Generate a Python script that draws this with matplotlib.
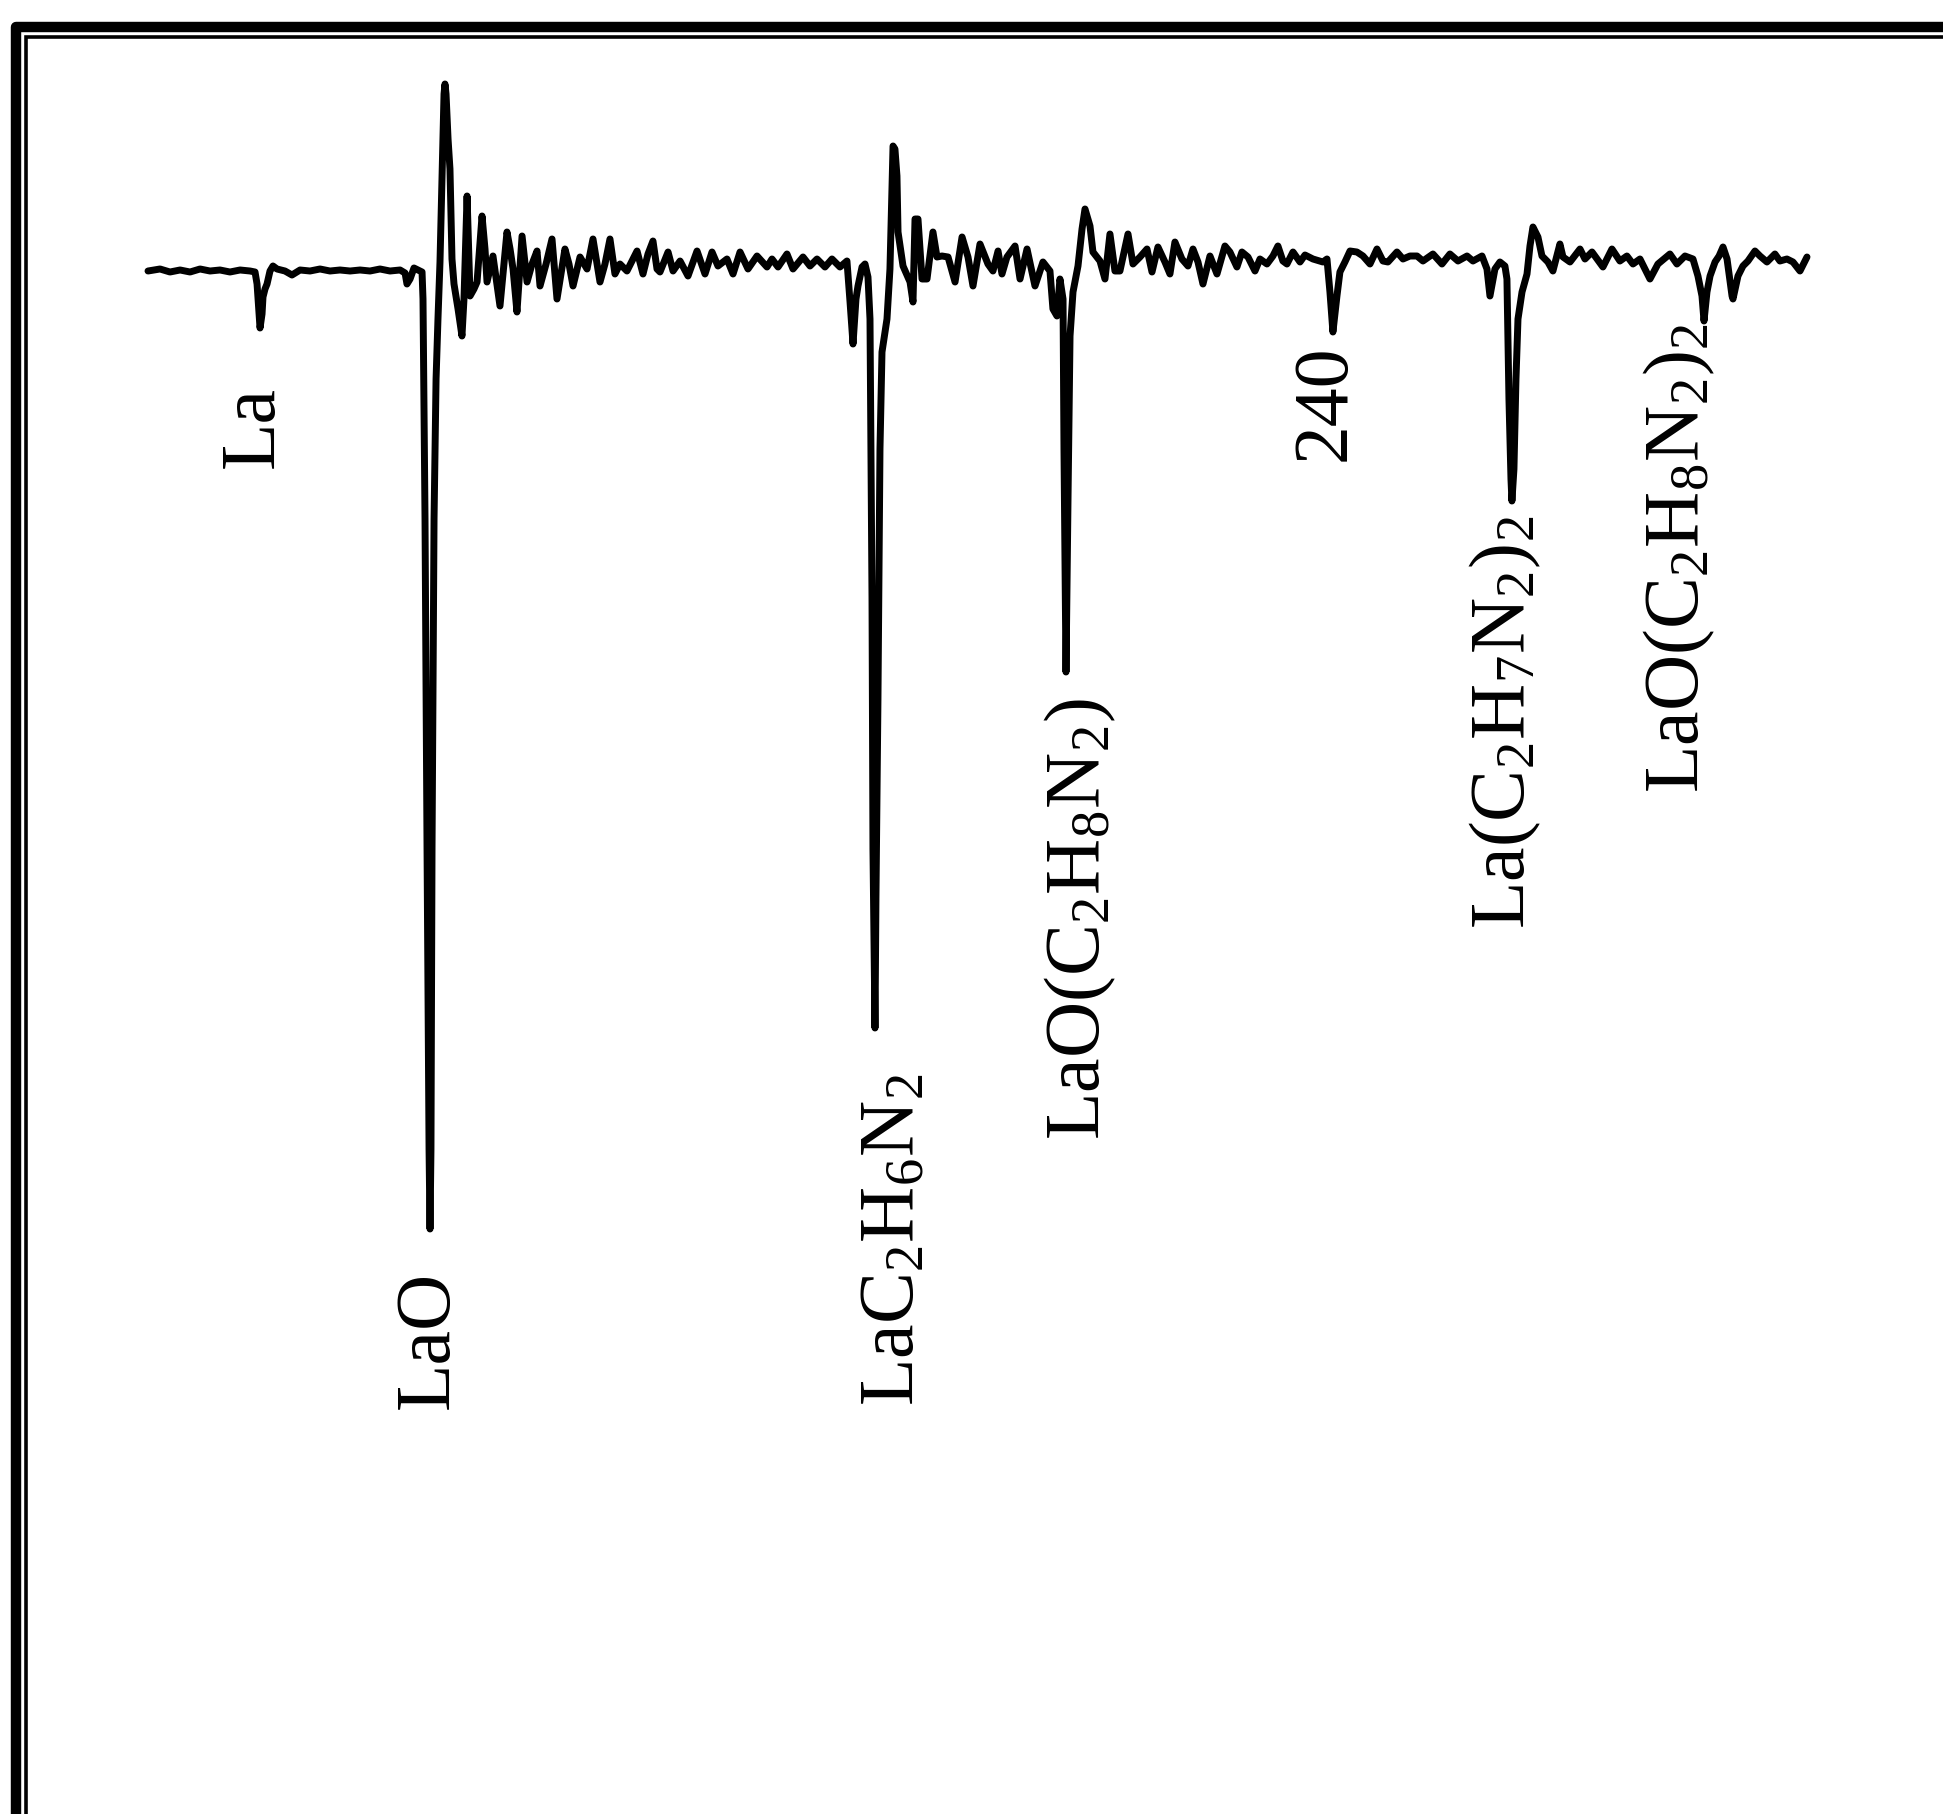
import matplotlib
matplotlib.use("Agg")
import matplotlib.pyplot as plt
from matplotlib.lines import Line2D

plt.rcParams['font.family'] = ['Liberation Serif', 'DejaVu Serif']
plt.rcParams['mathtext.fontset'] = 'custom'
plt.rcParams['mathtext.rm'] = 'Liberation Serif'
plt.rcParams['mathtext.it'] = 'Liberation Serif:italic'

# m/z of each sample of the trace
mz = [128.45, 129.58, 130.52, 131.47, 132.41, 133.35, 134.29, 135.23, 136.17, 137.12,
      138.06, 138.53, 138.72, 138.91, 139.00, 139.19, 139.28, 139.47, 139.66, 139.94,
      140.22, 140.60, 141.35, 142.01, 142.77, 143.71, 144.65, 145.59, 146.53, 147.48,
      148.42, 149.36, 150.30, 151.24, 152.19, 152.66, 152.84, 153.13, 153.50, 153.88,
      154.26, 154.35, 154.54, 154.73, 154.92, 155.01, 155.10, 155.20, 155.39, 155.58,
      155.76, 155.95, 156.14, 156.33, 156.42, 156.52, 156.71, 156.89, 157.08, 157.27,
      157.65, 158.02, 158.21, 158.50, 158.78, 159.15, 159.44, 159.91, 160.19, 160.38,
      160.94, 161.60, 162.26, 162.55, 162.83, 163.20, 163.68, 164.15, 164.62, 165.09,
      165.37, 165.94, 166.50, 166.97, 167.35, 167.72, 168.10, 168.48, 169.14, 169.80,
      170.36, 171.02, 171.49, 171.96, 172.43, 172.90, 173.56, 174.03, 174.51, 175.07,
      175.54, 176.01, 176.39, 176.67, 177.43, 177.90, 178.56, 179.31, 180.16, 180.91,
      181.57, 182.13, 182.98, 183.55, 184.21, 184.96, 185.81, 186.75, 187.22, 187.79,
      188.63, 189.20, 190.14, 190.80, 191.46, 192.21, 192.87, 193.62, 194.28,
      194.57, 194.85, 195.13, 195.32, 195.70, 195.98, 196.26, 196.45, 196.64, 196.73,
      196.92, 197.01, 197.20, 197.39, 197.58, 198.05, 198.33, 198.52, 198.62, 198.80,
      198.99, 199.09, 199.56, 200.22, 200.50, 200.69, 200.97, 201.35, 201.82, 202.38,
      202.76, 203.23, 203.80, 204.46, 205.12, 205.68, 206.15, 206.81, 207.56, 208.03,
      208.51, 208.88, 209.35, 210.11, 210.58, 211.24, 211.99, 212.74, 213.40, 213.68,
      214.06, 214.34, 214.63, 214.72, 214.91, 215.10, 215.29, 215.57, 216.04, 216.42,
      216.70, 217.17, 217.45, 218.11, 218.58, 219.05, 219.52, 219.99, 220.75, 221.22,
      221.88, 222.54, 223.01, 223.57, 224.23, 224.70, 225.17, 225.83, 226.40, 226.87,
      227.34, 227.81, 228.47, 229.13, 229.88, 230.35, 231.01, 231.48, 232.05, 232.71,
      233.18, 233.84, 234.40, 234.87, 235.34, 235.72, 236.29, 236.95, 237.42, 238.17,
      239.11, 239.49, 239.77, 240.05, 240.43, 240.71, 241.18, 241.66, 242.31, 242.88,
      243.54, 244.20, 244.76, 245.23, 246.08, 246.65, 247.31, 247.97, 248.53, 249.47,
      250.32, 251.07, 251.83, 252.68, 253.24, 254.09, 254.56, 254.84, 255.31, 255.78,
      256.25, 256.44, 256.63, 256.82, 256.91, 257.10, 257.29, 257.48, 257.86, 258.33,
      258.61, 258.89, 259.36, 259.74, 260.30, 260.77, 261.43, 261.72, 262.38, 263.32,
      263.79, 264.45, 265.48, 266.33, 267.08, 267.74, 268.31, 268.97, 269.91, 270.66,
      271.79, 272.45, 273.21, 273.96, 274.43, 274.81, 275.00, 275.28, 275.57, 276.04,
      276.42, 276.79, 277.17, 277.64, 277.73, 278.20, 278.67, 279.14, 279.80, 280.27,
      280.93, 281.68, 282.15, 282.81, 283.38, 284.04, 284.70]

# signal, arbitrary units (negative = down)
signal = [0, 2, -1, 1, -1, 2, 0, 1, -1, 1,
          0, -1, -13, -43, -57, -43, -26, -18, -13, 0,
          5, 2, 0, -4, 1, 0, 2, 0, 1, 0,
          1, 0, 2, 0, 1, -2, -13, -8, 3, 1,
          -1, -28, -248, -578, -878, -958, -878, -578, -248, -108,
          -48, 9, 92, 177, 187, 177, 132, 102, 12, -13,
          -38, -65, -28, 75, -25, -18, -11, 55, 22, -11,
          15, -35, 39, 22, 2, -41, 35, -11, 7, 20,
          -15, 7, 32, -28, -3, 22, 7, -15, 14, 2,
          32, -11, 7, 32, -3, 7, 0, 10, 20, -3,
          17, 30, 2, -1, 19, 0, 10, -5, 20, -3,
          19, 5, 12, -3, 19, 2, 15, 4, 12, 4,
          17, 2, 14, 5, 12, 4, 12, 4, 10,
          -31, -73, -28, -15, 4, 7, -6, -48, -328, -578,
          -757, -628, -428, -178, -81, -48, 2, 85, 125, 122,
          95, 39, 5, -11, -31, 52, 52, -8, -8, 39,
          14, 15, 14, -11, 34, 14, -15, 27, 7, 0,
          20, -3, 14, 25, -8, 22, -15, 9, 0, -38,
          -45, -8, -28, -178, -401, -228, -65, -21, 5, 42,
          62, 45, 19, 10, -8, 37, 0, 0, 37, 7,
          14, 22, -1, 24, 9, -3, 29, 12, 5, 22,
          9, -13, 15, -3, 25, 19, 4, 19, 14, 0,
          12, 7, 15, 25, 10, 7, 19, 9, 16, 12,
          9, 12, -21, -61, -25, -1, 9, 20, 19, 15,
          7, 22, 10, 9, 19, 12, 15, 15, 10, 17,
          7, 17, 10, 15, 10, 15, 2, -25, 2, 9,
          5, -8, -128, -208, -230, -198, -108, -48, -21, -3,
          25, 44, 34, 15, 9, 0, 27, 14, 9, 22,
          12, 19, 4, 22, 10, 15, 7, 12, -8, 7,
          17, 7, 15, 12, -5, -25, -50, -21, -5, 9,
          15, 24, 12, -25, -28, -5, 5, 10, 20, 15,
          9, 17, 10, 12, 9, 0, 14]

labels = ['La', 'LaO', r'LaC$_2$H$_6$N$_2$', r'LaO(C$_2$H$_8$N$_2$)', '240',
          r'La(C$_2$H$_7$N$_2$)$_2$', r'LaO(C$_2$H$_8$N$_2$)$_2$']
label_mz = [138.43, 154.92, 198.67, 216.23, 239.40, 256.25, 272.64]
label_y = [-196, -1137, -1134, -868, -189, -657, -521]

W, H = 1943, 1815
fig = plt.figure(figsize=(W / 100, H / 100), dpi=100)
fig.patch.set_facecolor('white')

ax = fig.add_axes([0, 0, 1, 1])
ax.plot(mz, signal, color='black', lw=5, solid_joinstyle='round',
        solid_capstyle='round')
ax.set_xlim(114.51, 297.51)
ax.set_ylim(-1543, 272)
ax.axis('off')

for txt, x, y in zip(labels, label_mz, label_y):
    ax.text(x, y, txt, rotation=90, ha='center', va='bottom', fontsize=56)

# double frame (runs off the right and bottom edges)
def px(x, y):
    return x / 100, (H - y) / 100

xs, ys = zip(px(16, 2000), px(16, 27.5), px(2100, 27.5))
fig.add_artist(Line2D(xs, ys, transform=fig.dpi_scale_trans, color='black',
                      lw=7.5, solid_joinstyle='round'))
xs, ys = zip(px(25.5, 2000), px(25.5, 38), px(2100, 38))
fig.add_artist(Line2D(xs, ys, transform=fig.dpi_scale_trans, color='black',
                      lw=2.6, solid_joinstyle='miter'))

fig.savefig('out.png', dpi=100)
